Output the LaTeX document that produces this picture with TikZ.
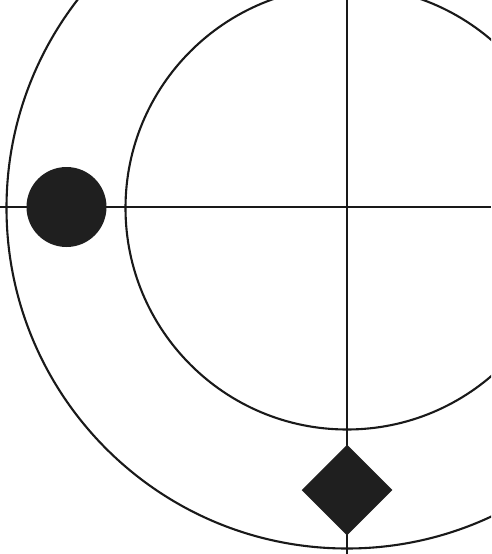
\documentclass[tikz,border=0pt]{standalone}
\begin{document}
\begin{tikzpicture}[x=1pt,y=-1pt,line width=2.1pt,
  ring/.style={draw=black!90},
  axis/.style={draw=black!90},
  blob/.style={fill=black!88}]
\useasboundingbox (0,0) rectangle (491,554);
\begin{scope}
\clip (0,0) rectangle (491,554);
\coordinate (c) at (347,208);
\draw[ring] (c) circle[radius=221.5];
\draw[ring] (c) circle[radius=340.5];
\coordinate (hl) at (0,207);
\coordinate (hr) at (491,207);
\coordinate (vt) at (347,0);
\coordinate (vb) at (347,554);
\draw[axis] (hl) -- (hr);
\draw[axis] (vt) -- (vb);
\node[blob,circle,minimum size=80pt,inner sep=0pt] (dot) at (66.5,207) {};
\node[blob,minimum size=64pt,inner sep=0pt,rotate=45] (dia) at (347,490) {};
\end{scope}
\end{tikzpicture}
\end{document}
